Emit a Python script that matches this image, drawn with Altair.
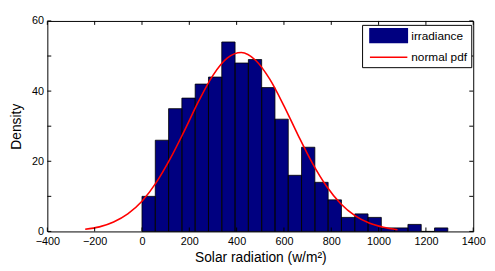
import altair as alt
import pandas as pd

# Histogram counts (23 bins starting at 0, width ~56.2)
counts = [10, 26, 35, 38, 42, 44, 54, 48, 49, 41, 32, 16, 24, 14, 9, 4, 5, 4, 1, 1, 2, 0, 1]
bin_width = 56.2
bin_origin = 0

# Fitted normal pdf curve
curve_x = [-240, -180, -120, -60, 0, 60, 120, 180, 240, 300, 360, 420,
           480, 540, 600, 660, 720, 780, 840, 900, 960, 1020, 1080]
curve_y = [0.6, 1.3, 2.7, 5.0, 8.6, 13.9, 20.8, 28.8, 37.2, 44.5, 49.4, 51.0,
           48.8, 43.4, 35.8, 27.4, 19.5, 12.9, 7.9, 4.5, 2.4, 1.2, 0.5]

x_ticks = [-400, -200, 0, 200, 400, 600, 800, 1000, 1200, 1400]
y_ticks = [0, 10, 20, 30, 40, 50, 60]

series_names = ["irradiance", "normal pdf"]
series_colors = ["#000080", "#ff0000"]

W, H = 433, 214
FONT = "Liberation Sans"
XTITLE = "Solar radiation (w/m²)"
YTITLE = "Density"

bars_df = pd.DataFrame({
    "start": [bin_origin + i * bin_width for i in range(len(counts))],
    "end": [bin_origin + (i + 1) * bin_width for i in range(len(counts))],
    "count": counts,
    "series": series_names[0],
})
curve_df = pd.DataFrame({"x": curve_x, "y": curve_y, "series": series_names[1]})
xt_df = pd.DataFrame({"tick": x_ticks})
yt_df = pd.DataFrame({"tick": y_ticks})

xscale = alt.Scale(domain=[-400, 1400], nice=False, zero=False)
yscale = alt.Scale(domain=[0, 60], nice=False)

xaxis = alt.Axis(values=x_ticks, format="d", labelFlush=False, labelPadding=4,
                 titlePadding=5, title=XTITLE)
yaxis = alt.Axis(values=y_ticks, format="d", labelPadding=4, titlePadding=8,
                 title=YTITLE)

legend = alt.Legend(
    title=None, orient="none", legendX=320, legendY=4, padding=4,
    strokeColor="black", fillColor="white", cornerRadius=0,
    symbolType=alt.ExprRef(expr="datum.value === 'irradiance' ? 'M-3.17,-1.17H3.17V1.17H-3.17Z' : 'M-3.17,0H3.17'"),
    symbolStrokeColor=alt.ExprRef(expr="datum.value === 'irradiance' ? 'black' : '#ff0000'"),
    symbolSize=144, symbolStrokeWidth=1.5, symbolOffset=16, labelOffset=16,
    labelFontSize=12, labelFont=FONT, labelColor="black", rowPadding=4,
)

color = alt.Color("series:N", scale=alt.Scale(domain=series_names, range=series_colors),
                  legend=legend)

bars = alt.Chart(bars_df).mark_bar(opacity=1).encode(
    x=alt.X("start:Q", scale=xscale, axis=xaxis),
    x2="end:Q",
    y=alt.Y("count:Q", scale=yscale, axis=yaxis),
    y2=alt.datum(0),
    color=color,
)

outline = alt.Chart(bars_df).mark_bar(fillOpacity=0, stroke="black", strokeWidth=0.8).encode(
    x=alt.X("start:Q", title=XTITLE),
    x2="end:Q",
    y=alt.Y("count:Q", title=YTITLE),
    y2=alt.datum(0),
)

line = alt.Chart(curve_df).mark_line(strokeWidth=1.6, interpolate="monotone").encode(
    x=alt.X("x:Q", title=XTITLE),
    y=alt.Y("y:Q", title=YTITLE),
    color=alt.Color("series:N"),
)

tick_len = 4
bottom_ticks = alt.Chart(xt_df).mark_rule(color="black", strokeWidth=1).encode(
    x=alt.X("tick:Q", title=XTITLE), y=alt.value(H), y2=alt.value(H - tick_len))
top_ticks = alt.Chart(xt_df).mark_rule(color="black", strokeWidth=1).encode(
    x=alt.X("tick:Q", title=XTITLE), y=alt.value(0), y2=alt.value(tick_len))
left_ticks = alt.Chart(yt_df).mark_rule(color="black", strokeWidth=1).encode(
    y=alt.Y("tick:Q", title=YTITLE), x=alt.value(0), x2=alt.value(tick_len))
right_ticks = alt.Chart(yt_df).mark_rule(color="black", strokeWidth=1).encode(
    y=alt.Y("tick:Q", title=YTITLE), x=alt.value(W), x2=alt.value(W - tick_len))

chart = alt.layer(
    bars, outline, line, bottom_ticks, top_ticks, left_ticks, right_ticks
).properties(
    width=W, height=H,
    padding={"left": 40, "top": 11, "right": 14, "bottom": 34},
    autosize=alt.AutoSizeParams(type="none"),
    background="white",
).configure_view(
    stroke="black", strokeWidth=1
).configure_axis(
    labelFont=FONT, labelFontSize=11, labelColor="black",
    titleFont=FONT, titleFontSize=14, titleFontWeight="normal", titleColor="black",
    grid=False, ticks=False, domain=False,
)

chart.save("out.html", embed_options={"renderer": "svg", "actions": False})
